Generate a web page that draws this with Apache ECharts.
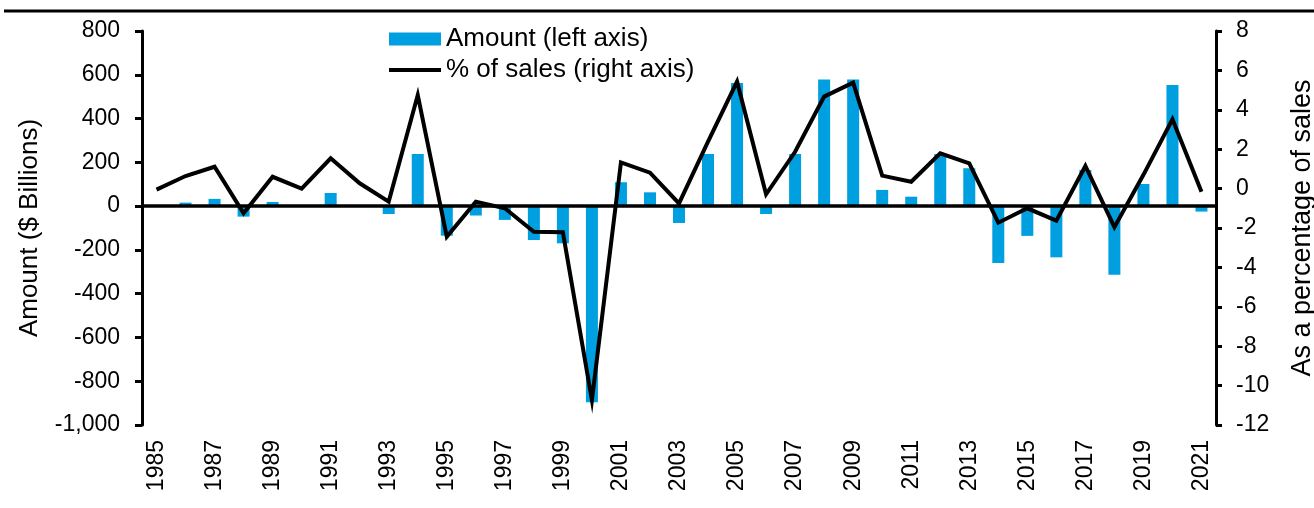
<!DOCTYPE html>
<html>
<head>
<meta charset="utf-8">
<script src="https://cdn.jsdelivr.net/npm/echarts@6/dist/echarts.min.js"></script>
<style>
  html, body { margin: 0; padding: 0; background: #fff; }
  #chart { width: 1314px; height: 508px; }
</style>
</head>
<body>
<div id="chart"></div>
<script>
var years = ['1985','1986','1987','1988','1989','1990','1991','1992','1993','1994',
  '1995','1996','1997','1998','1999','2000','2001','2002','2003','2004',
  '2005','2006','2007','2008','2009','2010','2011','2012','2013','2014',
  '2015','2016','2017','2018','2019','2020','2021'];

// $ billions, left axis
var amount = [0, 16, 33, -48, 19, 0, 60, 0, -36, 238,
  -135, -43, -63, -155, -170, -896, 109, 63, -77, 238,
  563, -36, 238, 578, 578, 74, 43, 238, 173, -260,
  -136, -234, 165, -314, 101, 553, -25];

// % of sales, right axis
var pctOfSales = [-0.05, 0.64, 1.11, -1.25, 0.6, 0.0, 1.54, 0.27, -0.66, 4.75,
  -2.44, -0.66, -1.0, -2.19, -2.22, -10.73, 1.33, 0.81, -0.75, 2.38,
  5.43, -0.29, 1.87, 4.67, 5.38, 0.66, 0.35, 1.79, 1.28, -1.73,
  -1.0, -1.63, 1.15, -1.96, 0.7, 3.52, -0.16];

var font = "'Liberation Sans', Arial, sans-serif";
var chart = echarts.init(document.getElementById('chart'));

var option = {
  animation: false,
  textStyle: { fontFamily: font, color: '#000' },
  graphic: [{
    type: 'line',
    shape: { x1: 4, y1: 11, x2: 1314, y2: 11 },
    style: { stroke: '#000', lineWidth: 3 }
  }],
  grid: { left: 142, right: 98, top: 31, bottom: 83, containLabel: false, outerBoundsMode: 'none' },
  legend: {
    orient: 'vertical',
    left: 389,
    top: 26,
    padding: 0,
    itemWidth: 52,
    itemHeight: 13,
    itemGap: 5,
    textStyle: { fontSize: 26, lineHeight: 26, color: '#000', fontFamily: font },
    data: [
      { name: 'Amount (left axis)', icon: 'rect' },
      // plain line, no marker
      { name: '% of sales (right axis)', icon: 'path://M0,0 L52,0 L52,4 L0,4 Z' }
    ]
  },
  xAxis: {
    type: 'category',
    data: years,
    boundaryGap: true,
    axisLine: { show: false },
    axisTick: { show: false },
    axisLabel: {
      rotate: 90,
      interval: 1,
      fontSize: 23,
      color: '#000',
      fontFamily: font,
      margin: 15
    }
  },
  yAxis: [
    {
      type: 'value',
      min: -1000,
      max: 800,
      interval: 200,
      name: 'Amount ($ Billions)',
      nameLocation: 'middle',
      nameRotate: 90,
      nameGap: 99,
      nameTextStyle: { fontSize: 26, color: '#000', fontFamily: font },
      splitLine: { show: false },
      axisLine: { show: true, lineStyle: { color: '#000', width: 3 } },
      axisTick: { show: true, length: 7, lineStyle: { color: '#000', width: 3 } },
      axisLabel: {
        fontSize: 23,
        color: '#000',
        fontFamily: font,
        margin: 22,
        formatter: function (v) { return v.toLocaleString('en-US'); }
      }
    },
    {
      type: 'value',
      min: -12,
      max: 8,
      interval: 2,
      position: 'right',
      name: 'As a percentage of sales',
      nameLocation: 'middle',
      nameRotate: 90,
      nameGap: 73,
      nameTextStyle: { fontSize: 27, color: '#000', fontFamily: font },
      splitLine: { show: false },
      axisLine: { show: true, lineStyle: { color: '#000', width: 3 } },
      axisTick: { show: true, length: 6, lineStyle: { color: '#000', width: 3 } },
      axisLabel: { fontSize: 23, color: '#000', fontFamily: font, margin: 20 }
    }
  ],
  series: [
    {
      name: 'Amount (left axis)',
      type: 'bar',
      yAxisIndex: 0,
      data: amount,
      barWidth: 12,
      itemStyle: { color: '#009FDF' },
      markLine: {
        silent: true,
        symbol: 'none',
        label: { show: false },
        lineStyle: { color: '#000', width: 3.5, type: 'solid' },
        data: [{ yAxis: 0 }]
      }
    },
    {
      name: '% of sales (right axis)',
      type: 'line',
      yAxisIndex: 1,
      data: pctOfSales,
      symbol: 'none',
      z: 5,
      lineStyle: { color: '#000', width: 4, join: 'miter' },
      itemStyle: { color: '#000' }
    }
  ]
};

chart.setOption(option);
</script>
</body>
</html>
